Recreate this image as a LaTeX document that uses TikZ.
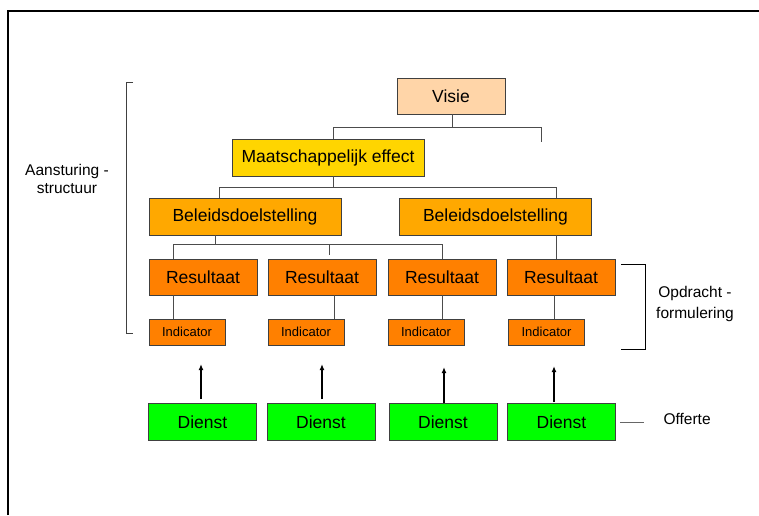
\documentclass[tikz,border=0pt]{standalone}
\usepackage{fontspec}
\setmainfont{Liberation Sans}
\usepackage{xcolor}
\usetikzlibrary{arrows.meta}
\usetikzlibrary{positioning}

\definecolor{visiecol}{HTML}{FFD5A8}
\definecolor{maatcol}{HTML}{FFD500}
\definecolor{beleidcol}{HTML}{FFA800}
\definecolor{resultcol}{HTML}{FF8000}
\definecolor{dienstcol}{HTML}{00FF00}

\tikzset{
  box/.style={draw=black!75, line width=0.8pt, inner sep=0pt, minimum height=36pt,
    font=\fontsize{17.5}{20}\selectfont},
  smallbox/.style={box, minimum height=26pt, minimum width=76pt,
    font=\fontsize{13}{15}\selectfont},
  link/.style={draw=black!70, line width=0.8pt},
  uparrow/.style={line width=1.5pt, -{Latex[length=6pt,width=5pt]}},
  sidelabel/.style={align=center, font=\fontsize{15.5}{18}\selectfont}
}

\begin{document}
\begin{tikzpicture}[x=1pt, y=-1pt]
				\useasboundingbox (0,0) rectangle (759,515);
				% draw frame
				\draw[line width=1.5pt] (8,515) -- (8,11) -- (759,11);
				
				% draw boxes
				\node[box, fill=visiecol, minimum width=108pt] (visie) at (451,96) {Visie};
				\node[box, fill=maatcol, minimum width=192pt, minimum height=37pt] (maat) at (328,157.5) {Maatschappelijk effect};
				\node[box, fill=beleidcol, minimum width=192pt, minimum height=37pt] (bel1) at (245,216.5) {Beleidsdoelstelling};
				\node[box, fill=beleidcol, minimum width=192pt, minimum height=37pt] (bel2) at (495.5,216.5) {Beleidsdoelstelling};
				
				\node[box, fill=resultcol, minimum width=108pt] (res1) at (203,277) {Resultaat};
				\node[box, fill=resultcol, minimum width=108pt] (res2) at (322,277) {Resultaat};
				\node[box, fill=resultcol, minimum width=108pt] (res3) at (442,277) {Resultaat};
				\node[box, fill=resultcol, minimum width=108pt] (res4) at (561,277) {Resultaat};
				
				\node[smallbox, fill=resultcol] (ind1) at (187,332) {Indicator};
				\node[smallbox, fill=resultcol] (ind2) at (306,332) {Indicator};
				\node[smallbox, fill=resultcol] (ind3) at (426,332) {Indicator};
				\node[smallbox, fill=resultcol] (ind4) at (546.5,332) {Indicator};
				
				\node[box, fill=dienstcol, minimum width=108pt, minimum height=37pt] (dienst1) at (202.5,422) {Dienst};
				\node[box, fill=dienstcol, minimum width=108pt, minimum height=37pt] (dienst2) at (321,422) {Dienst};
				\node[box, fill=dienstcol, minimum width=108pt, minimum height=37pt] (dienst3) at (443,422) {Dienst};
				\node[box, fill=dienstcol, minimum width=108pt, minimum height=37pt] (dienst4) at (561.5,422) {Dienst};
				
				% draw tree lines
				\coordinate (vend) at (541,142);
				\coordinate (bend) at (329,255);
				\draw[link] ([xshift=1.5pt]visie.south) -- ++(0,13) -| ([xshift=5pt]maat.north);
				\draw[link] ([xshift=1.5pt]visie.south) ++(0,13) -| (vend);
				\draw[link] ([xshift=5pt]maat.south) -- ++(0,11) -| ([xshift=-26pt]bel1.north);
				\draw[link] ([xshift=5pt]maat.south) ++(0,11) -| ([xshift=60.5pt]bel2.north);
				\draw[link] ([xshift=60.5pt]bel2.south) -- ([xshift=-5pt]res4.north);
				\draw[link] ([xshift=-30pt]bel1.south) -- ++(0,9) -| ([xshift=-30pt]res1.north);
				\draw[link] ([xshift=-30pt]bel1.south) ++(0,9) -| (res3.north);
				\draw[link] ([xshift=-30pt]bel1.south) ++(0,9) -| (bend);
				
				% result to indicator
				\draw[link] ([xshift=-30pt]res1.south) -- ([xshift=-30pt]res1.south |- ind1.north);
				\draw[link] ([xshift=12pt]res2.south) -- ([xshift=12pt]res2.south |- ind2.north);
				\draw[link] (res3.south) -- (res3.south |- ind3.north);
				\draw[link] ([xshift=-7pt]res4.south) -- ([xshift=-7pt]res4.south |- ind4.north);
				
				% add arrows
				\draw[uparrow] ([xshift=-1.5pt,yshift=4pt]dienst1.north) -- ++(0,-35);
				\draw[uparrow] ([xshift=1pt,yshift=4pt]dienst2.north) -- ++(0,-35);
				\draw[uparrow] ([xshift=1pt]dienst3.north) -- ++(0,-36);
				\draw[uparrow] ([xshift=-7.5pt,yshift=1pt]dienst4.north) -- ++(0,-36);
				
				% brackets and labels
				\draw[line width=0.8pt, black!75] (133,82) -- (126.7,82) -- (126.7,333) -- (133,333);
				\draw[line width=0.8pt] (621,264.5) -- (645,264.5) -- (645,349) -- (621,349);
				\draw[line width=0.8pt, black!60] ([xshift=4pt]dienst4.east) -- ++(24,0) coordinate (offend);
				
				\node[sidelabel] (aansturing) at (67,179) {Aansturing -\\structuur};
				\node[sidelabel, font=\fontsize{15.5}{21}\selectfont] (opdracht) at (695,304) {Opdracht -\\formulering};
				\node[sidelabel, anchor=west] (offerte) at (660,419) {Offerte};
			\end{tikzpicture}
\end{document}
